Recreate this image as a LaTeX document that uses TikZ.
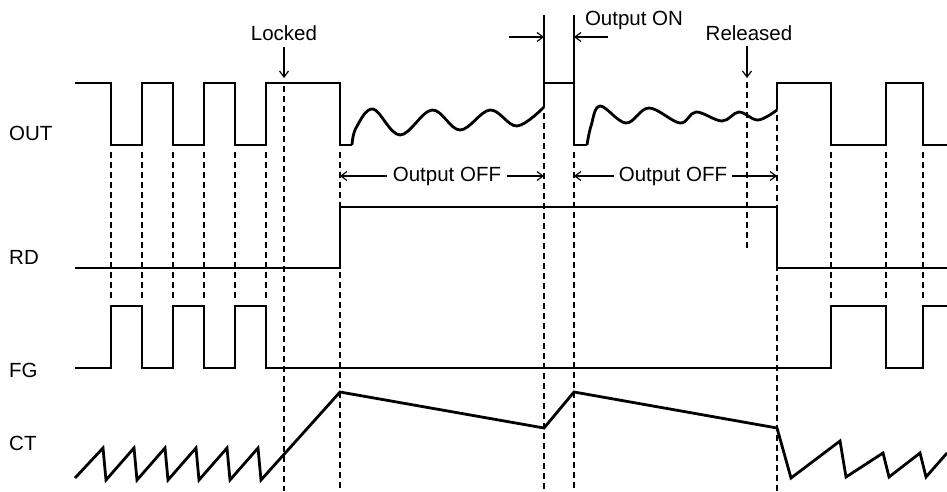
\documentclass[tikz,border=0pt]{standalone}
\usepackage{fontspec}
\setmainfont{Liberation Sans}
\usetikzlibrary{arrows.meta}

\begin{document}
\begin{tikzpicture}[x=1pt, y=-1pt,
    sig/.style={line width=2.8pt, line join=miter},
    guide/.style={line width=1.4pt, dash pattern=on 6pt off 4pt},
    marker/.style={line width=1.2pt},
    arr/.style={-{Straight Barb[length=6pt, width=9pt]}, line width=1.2pt},
    lbl/.style={font=\fontsize{20.5}{24}\selectfont, inner sep=0pt},
    signame/.style={lbl, anchor=west},
]
\useasboundingbox (0,0) rectangle (947,491);

\node[signame] (out) at (9, 133) {OUT};
\node[signame] (rd)  at (9, 257) {RD};
\node[signame] (fg)  at (9, 370) {FG};
\node[signame] (ct)  at (9, 443) {CT};

\node[lbl] (locked)   at (284, 33) {Locked};
\node[lbl] (released) at (749, 33) {Released};
\node[lbl] (onlbl)    at (634, 20) {Output ON};
\node[lbl, inner sep=6pt] (off1) at (447, 176) {Output OFF};
\node[lbl, inner sep=5pt] (off2) at (673, 176) {Output OFF};

\coordinate (lockTail) at (284, 47);
\coordinate (lockTip)  at (284, 78);
\coordinate (relTail)  at (747, 46);
\coordinate (relTip)   at (747, 78);
\coordinate (onA)      at (544, 37);
\coordinate (onB)      at (574, 37);
\coordinate (onAtail)  at (509, 37);
\coordinate (onBtail)  at (608, 37);
\coordinate (offA)     at (340, 176);
\coordinate (offB)     at (544, 176);
\coordinate (offC)     at (574, 176);
\coordinate (offD)     at (777, 176);

% OUT
\draw[sig] (75,83) -- (111,83) -- (111,145) -- (142,145) -- (142,83)
    -- (173,83) -- (173,145) -- (204,145) -- (204,83) -- (235,83)
    -- (235,145) -- (266,145) -- (266,83) -- (340,83) -- (340,145)
    -- (352,145);
\draw[sig] plot[smooth, tension=0.6] coordinates {(352,145) (356,128)
    (373,109) (400,135) (432,110) (460,130) (490,110) (517,126) (544,107)};
\draw[sig] (544,107) -- (544,83) -- (574,83) -- (574,145) -- (587,145);
\draw[sig] plot[smooth, tension=0.6] coordinates {(587,145) (591,126)
    (600,106) (626,123) (649,108) (680,123) (696,112) (722,121) (739,112)
    (758,120) (777,110)};
\draw[sig] (777,110) -- (777,83) -- (831,83) -- (831,145) -- (886,145)
    -- (886,83) -- (923,83) -- (923,145) -- (947,145);

% RD
\draw[sig] (75,268) -- (340,268) -- (340,207) -- (777,207) -- (777,268)
    -- (947,268);

% FG
\draw[sig] (75,368) -- (111,368) -- (111,306) -- (142,306) -- (142,368)
    -- (173,368) -- (173,306) -- (204,306) -- (204,368) -- (235,368)
    -- (235,306) -- (266,306) -- (266,368) -- (831,368) -- (831,306)
    -- (886,306) -- (886,368) -- (923,368) -- (923,306) -- (947,306);

% CT
\draw[sig] (75,478) -- (103,448) -- (106,480) -- (134,448) -- (137,480)
    -- (165,448) -- (168,480) -- (196,448) -- (199,480) -- (227,448)
    -- (230,480) -- (258,448) -- (261,480) -- (340,392) -- (544,428)
    -- (574,392) -- (777,428) -- (791,478) -- (840,441) -- (846,477)
    -- (883,453) -- (889,477) -- (920,453) -- (926,477) -- (947,453);

% timing guides
\draw[guide] (111,152) -- (111,300);
\draw[guide] (142,152) -- (142,300);
\draw[guide] (173,152) -- (173,300);
\draw[guide] (204,152) -- (204,300);
\draw[guide] (235,152) -- (235,300);
\draw[guide] (266,152) -- (266,300);
\draw[guide] (284,86) -- (284,491);
\draw[guide] (340,152) -- (340,491);
\draw[guide] (544,113) -- (544,491);
\draw[guide] (574,152) -- (574,491);
\draw[guide] (747,82) -- (747,250);
\draw[guide] (777,115) -- (777,491);
\draw[guide] (831,152) -- (831,300);
\draw[guide] (886,152) -- (886,302);
\draw[guide] (923,152) -- (923,300);

\draw[marker] (544,15) -- (544,83);
\draw[marker] (574,15) -- (574,83);

\draw[arr] (lockTail) -- (lockTip);
\draw[arr] (relTail) -- (relTip);
\draw[arr] (onAtail) -- (onA);
\draw[arr] (onBtail) -- (onB);
\draw[arr] (off1.west) -- (offA);
\draw[arr] (off1.east) -- (offB);
\draw[arr] (off2.west) -- (offC);
\draw[arr] (off2.east) -- (offD);

\end{tikzpicture}
\end{document}
